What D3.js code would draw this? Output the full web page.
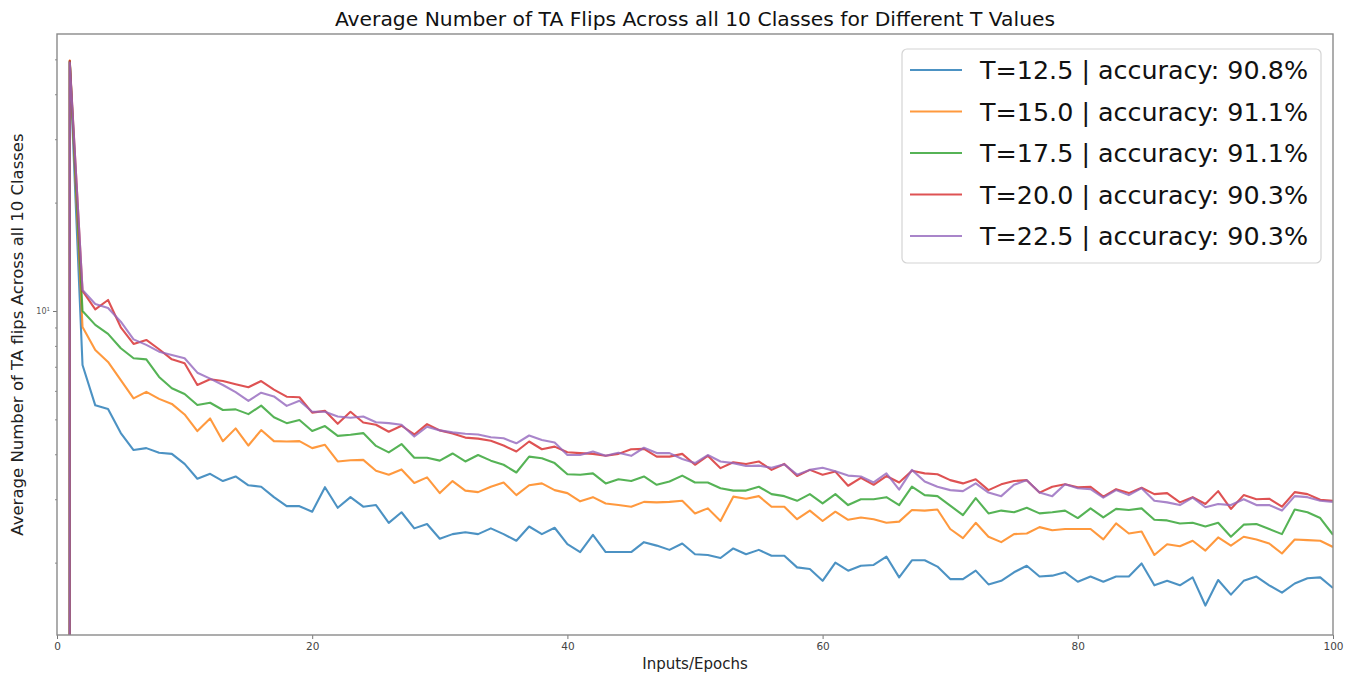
<!DOCTYPE html>
<html>
<head>
<meta charset="utf-8">
<script src="https://cdn.jsdelivr.net/npm/d3@7"></script>
<style>
  body { margin: 0; background: #fff; }
  svg { display: block; font-family: "DejaVu Sans", sans-serif; }
</style>
</head>
<body>
<svg id="chart" width="1352" height="677"></svg>
<script>
// Epoch index along the x axis
const epochs = d3.range(0, 101);

// Legend labels
const tValues = ["12.5", "15.0", "17.5", "20.0", "22.5"];
const accuracies = ["90.8", "91.1", "91.1", "90.3", "90.3"];
const colors = ["#1f77b4", "#ff7f0e", "#2ca02c", "#d62728", "#9467bd"];

// Average TA flips per epoch, one array per threshold T
const flipsT125 = [
  0, 49.2, 7.08, 5.47, 5.34, 4.58, 4.11, 4.16, 4.04, 4.01,
  3.76, 3.42, 3.53, 3.37, 3.47, 3.28, 3.25, 3.04, 2.87, 2.87,
  2.77, 3.24, 2.84, 3.04, 2.86, 2.89, 2.58, 2.76, 2.49, 2.56,
  2.33, 2.40, 2.43, 2.40, 2.49, 2.40, 2.30, 2.52, 2.40, 2.50,
  2.25, 2.14, 2.39, 2.14, 2.14, 2.14, 2.28, 2.23, 2.17, 2.26,
  2.11, 2.10, 2.06, 2.19, 2.11, 2.17, 2.09, 2.09, 1.94, 1.92,
  1.78, 2.00, 1.90, 1.96, 1.97, 2.08, 1.82, 2.03, 2.03, 1.95,
  1.80, 1.80, 1.90, 1.74, 1.78, 1.88, 1.96, 1.83, 1.84, 1.88,
  1.77, 1.83, 1.77, 1.83, 1.83, 1.99, 1.73, 1.78, 1.73, 1.82,
  1.52, 1.79, 1.63, 1.78, 1.83, 1.73, 1.65, 1.75, 1.81, 1.82,
  1.70
];
const flipsT150 = [
  0, 49.6, 9.03, 7.79, 7.22, 6.43, 5.72, 5.96, 5.70, 5.52,
  5.16, 4.64, 5.03, 4.35, 4.72, 4.23, 4.67, 4.35, 4.34, 4.35,
  4.16, 4.25, 3.82, 3.85, 3.86, 3.60, 3.51, 3.63, 3.33, 3.45,
  3.12, 3.37, 3.17, 3.14, 3.25, 3.34, 3.08, 3.28, 3.32, 3.18,
  3.12, 2.96, 3.04, 2.92, 2.89, 2.86, 2.95, 2.94, 2.95, 2.97,
  2.74, 2.83, 2.61, 3.05, 3.01, 3.06, 2.86, 2.86, 2.64, 2.79,
  2.61, 2.77, 2.63, 2.67, 2.64, 2.58, 2.60, 2.80, 2.79, 2.81,
  2.48, 2.34, 2.58, 2.36, 2.28, 2.40, 2.41, 2.51, 2.46, 2.48,
  2.48, 2.48, 2.32, 2.57, 2.41, 2.44, 2.10, 2.25, 2.22, 2.30,
  2.16, 2.35, 2.23, 2.36, 2.32, 2.26, 2.12, 2.32, 2.31, 2.30,
  2.21
];
const flipsT175 = [
  0, 49.4, 10.0, 9.15, 8.64, 7.88, 7.39, 7.34, 6.56, 6.10,
  5.88, 5.48, 5.56, 5.31, 5.33, 5.17, 5.46, 5.07, 4.88, 4.98,
  4.64, 4.79, 4.50, 4.53, 4.58, 4.22, 4.05, 4.27, 3.91, 3.91,
  3.84, 4.02, 3.82, 3.98, 3.84, 3.74, 3.56, 3.94, 3.90, 3.78,
  3.52, 3.51, 3.54, 3.32, 3.41, 3.37, 3.47, 3.29, 3.36, 3.49,
  3.34, 3.34, 3.22, 3.17, 3.17, 3.25, 3.10, 3.06, 2.97, 3.10,
  2.92, 3.10, 2.89, 3.00, 3.00, 3.04, 2.89, 3.25, 3.08, 3.06,
  2.88, 2.71, 3.02, 2.74, 2.79, 2.76, 2.84, 2.74, 2.76, 2.79,
  2.66, 2.83, 2.67, 2.82, 2.80, 2.83, 2.63, 2.62, 2.57, 2.58,
  2.52, 2.58, 2.36, 2.55, 2.56, 2.48, 2.40, 2.81, 2.76, 2.66,
  2.39
];
const flipsT200 = [
  0, 49.5, 11.37, 10.11, 10.73, 9.01, 8.10, 8.31, 7.83, 7.34,
  7.16, 6.23, 6.46, 6.39, 6.26, 6.14, 6.39, 6.05, 5.78, 5.76,
  5.22, 5.28, 4.86, 5.25, 4.90, 4.83, 4.62, 4.80, 4.54, 4.85,
  4.66, 4.57, 4.45, 4.42, 4.36, 4.23, 4.07, 4.34, 4.13, 4.20,
  4.05, 4.03, 4.01, 3.96, 4.01, 4.13, 4.14, 3.94, 3.94, 4.01,
  3.74, 3.96, 3.66, 3.80, 3.76, 3.82, 3.62, 3.76, 3.48, 3.62,
  3.51, 3.58, 3.27, 3.44, 3.29, 3.48, 3.34, 3.60, 3.54, 3.52,
  3.39, 3.32, 3.41, 3.18, 3.30, 3.37, 3.39, 3.13, 3.25, 3.30,
  3.24, 3.25, 3.05, 3.20, 3.12, 3.23, 3.10, 3.12, 2.94, 3.04,
  2.91, 3.16, 2.82, 3.08, 3.00, 3.01, 2.86, 3.14, 3.10, 2.99,
  2.97
];
const flipsT225 = [
  0, 49.0, 11.44, 10.46, 10.19, 9.34, 8.34, 8.05, 7.71, 7.55,
  7.39, 6.74, 6.49, 6.23, 5.95, 5.63, 5.93, 5.79, 5.45, 5.63,
  5.25, 5.25, 5.09, 5.05, 5.09, 4.91, 4.88, 4.83, 4.48, 4.77,
  4.66, 4.60, 4.56, 4.54, 4.46, 4.43, 4.29, 4.51, 4.38, 4.31,
  3.98, 3.98, 4.07, 3.96, 4.04, 3.96, 4.17, 4.03, 4.03, 3.88,
  3.78, 3.98, 3.82, 3.78, 3.71, 3.72, 3.67, 3.75, 3.51, 3.62,
  3.67, 3.59, 3.49, 3.47, 3.34, 3.54, 3.19, 3.62, 3.36, 3.25,
  3.18, 3.16, 3.32, 3.13, 3.06, 3.29, 3.39, 3.13, 3.06, 3.30,
  3.22, 3.20, 3.03, 3.18, 3.08, 3.22, 2.97, 2.94, 2.89, 3.03,
  2.85, 2.91, 2.89, 3.00, 2.89, 2.89, 2.79, 3.06, 3.04, 2.97,
  2.95
];
const allSeries = [flipsT125, flipsT150, flipsT175, flipsT200, flipsT225];

// Axis ticks
const xTicks = [0, 20, 40, 60, 80, 100];
const yMajorTicks = [10];
const yMinorTicks = [2, 3, 4, 5, 6, 7, 8, 9, 20, 30, 40, 50];
const xDomain = [0, 100];
const yDomain = [1.259, 58.8];

const svg = d3.select("#chart");
const plot = { left: 57, top: 34, right: 1333, bottom: 635 };

const x = d3.scaleLinear().domain(xDomain).range([plot.left, plot.right]);
const y = d3.scaleLog().domain(yDomain).range([plot.bottom, plot.top]);

svg.append("rect").attr("width", 1352).attr("height", 677).attr("fill", "#fff");

// Title
svg.append("text")
  .attr("x", (plot.left + plot.right) / 2).attr("y", 26)
  .attr("text-anchor", "middle")
  .attr("font-size", 20.3).attr("fill", "#111")
  .text("Average Number of TA Flips Across all 10 Classes for Different T Values");

// Clip region for the data lines
svg.append("defs").append("clipPath").attr("id", "plotClip")
  .append("rect")
  .attr("x", plot.left).attr("y", plot.top)
  .attr("width", plot.right - plot.left).attr("height", plot.bottom - plot.top);

// Non-positive values go far below the axis, like a clipped log plot
const line = d3.line()
  .x((d, i) => x(epochs[i]))
  .y(d => y(d > 0 ? d : 1e-300));

const lines = svg.append("g").attr("clip-path", "url(#plotClip)");
allSeries.forEach((s, k) => {
  lines.append("path")
    .datum(s)
    .attr("fill", "none")
    .attr("stroke", colors[k])
    .attr("stroke-width", 2.1)
    .attr("stroke-linejoin", "round")
    .attr("stroke-opacity", 0.8)
    .attr("d", line);
});

// X axis
const xAxis = svg.append("g")
  .attr("transform", `translate(0,${plot.bottom})`)
  .call(d3.axisBottom(x).tickValues(xTicks).tickSize(4).tickPadding(4).tickFormat(d3.format("d")));
xAxis.select(".domain").remove();
xAxis.selectAll("line").attr("stroke", "#777");
xAxis.selectAll("text").attr("font-size", 10.5).attr("fill", "#444")
  .attr("font-family", "DejaVu Sans");

// Y axis: major tick with label, minor ticks without
const yMinor = svg.append("g")
  .attr("transform", `translate(${plot.left},0)`)
  .call(d3.axisLeft(y).tickValues(yMinorTicks).tickSize(2).tickFormat(""));
yMinor.select(".domain").remove();
yMinor.selectAll("line").attr("stroke", "#888");

const yMajor = svg.append("g")
  .attr("transform", `translate(${plot.left},0)`)
  .call(d3.axisLeft(y).tickValues(yMajorTicks).tickSize(4).tickFormat(""));
yMajor.select(".domain").remove();
yMajor.selectAll("line").attr("stroke", "#777");
yMajor.selectAll(".tick").each(function(d) {
  const t = d3.select(this).append("text")
    .attr("x", -7).attr("dy", "0.32em")
    .attr("text-anchor", "end")
    .attr("fill", "#555")
    .attr("font-family", "DejaVu Sans")
    .attr("font-size", 8);
  t.append("tspan").text(String(d));
  t.append("tspan").attr("font-size", 5.5).attr("dy", "-0.5em").text(String(Math.round(Math.log10(d))));
});

// Frame
svg.append("rect")
  .attr("x", plot.left).attr("y", plot.top)
  .attr("width", plot.right - plot.left).attr("height", plot.bottom - plot.top)
  .attr("fill", "none").attr("stroke", "#8a8a8a").attr("stroke-width", 1.4);

// Axis titles
svg.append("text")
  .attr("x", (plot.left + plot.right) / 2).attr("y", 669)
  .attr("text-anchor", "middle").attr("font-size", 15).attr("fill", "#222")
  .text("Inputs/Epochs");

svg.append("text")
  .attr("transform", `translate(23,${(plot.top + plot.bottom) / 2}) rotate(-90)`)
  .attr("text-anchor", "middle").attr("font-size", 16.5).attr("fill", "#222")
  .text("Average Number of TA flips Across all 10 Classes");

// Legend
const legend = svg.append("g").attr("transform", "translate(902,49)");
legend.append("rect")
  .attr("width", 419).attr("height", 214).attr("rx", 5)
  .attr("fill", "#fff").attr("fill-opacity", 0.85)
  .attr("stroke", "#d4d4d4").attr("stroke-width", 1.2);
tValues.forEach((t, k) => {
  const cy = 21 + k * 41.5;
  legend.append("line")
    .attr("x1", 8).attr("x2", 60).attr("y1", cy).attr("y2", cy)
    .attr("stroke", colors[k]).attr("stroke-width", 2.1).attr("stroke-opacity", 0.8);
  legend.append("text")
    .attr("x", 78).attr("y", cy).attr("dy", "0.36em")
    .attr("font-size", 25.4).attr("fill", "#111")
    .text(`T=${t} | accuracy: ${accuracies[k]}%`);
});
</script>
</body>
</html>
